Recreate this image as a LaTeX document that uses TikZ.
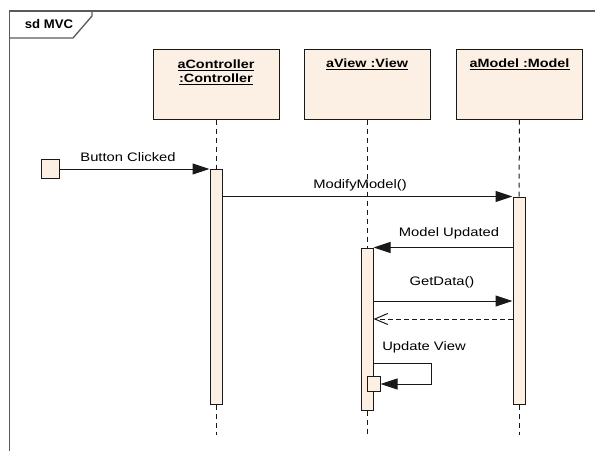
\documentclass[tikz,border=0pt]{standalone}
\usepackage{fontspec}
\setmainfont{Liberation Sans}
\usetikzlibrary{arrows.meta}
\definecolor{beige}{RGB}{251,240,227}
\definecolor{framec}{RGB}{90,90,90}
\definecolor{linec}{RGB}{25,25,25}
\newcommand\sxt[1]{\scalebox{1.2}[1]{#1}}
\tikzset{
  lbl/.style={font=\fontsize{12.3}{14}\selectfont, inner sep=0pt},
  ttl/.style={font=\bfseries\fontsize{12}{15}\selectfont, inner sep=0pt, align=center},
  objbox/.style={draw=linec, fill=beige, line width=1pt, minimum width=126pt, minimum height=70pt, inner sep=0pt},
  actbar/.style={draw=linec, fill=beige, line width=1pt, minimum width=12pt, inner sep=0pt},
  lifeline/.style={draw=linec, line width=1pt, dash pattern=on 5pt off 4pt},
  msg/.style={draw=linec, line width=1pt, -{Triangle[length=17pt,width=11pt]}},
  ret/.style={draw=linec, line width=1pt, dash pattern=on 5pt off 3pt, -{Straight Barb[length=13pt,width=11pt,line width=1pt]}},
}
\begin{document}
\begin{tikzpicture}[x=1pt,y=-1pt]
\useasboundingbox (0,0) rectangle (595,451);
% frame
\draw[framec, line width=1.3pt] (9.5,451) -- (9.5,11) -- (595,11);
\draw[framec, line width=1.3pt] (92,11) -- (92,16) -- (73,38) -- (9.5,38);
\node[ttl, font=\bfseries\fontsize{12.5}{14}\selectfont] (sd) at (49,24) {\scalebox{1.05}[1]{sd MVC}};
% object boxes
\node[objbox] (cbox) at (216,84) {};
\node[objbox] (vbox) at (367,84) {};
\node[objbox] (mbox) at (519.5,84) {};
\node[ttl] (ctitle) at (216,72) {\underline{\sxt{aController}}\\[-1pt]\underline{\sxt{:Controller}}};
\node[ttl] (vtitle) at (367,64) {\underline{\sxt{aView :View}}};
\node[ttl] (mtitle) at (519.5,64) {\underline{\sxt{aModel :Model}}};
% activation bars
\node[actbar, minimum height=235pt] (actC) at (216,286.5) {};
\node[actbar, minimum height=162pt] (actV) at (367,329) {};
\node[actbar, minimum height=207pt] (actM) at (519,300.5) {};
\node[actbar, minimum width=13pt, minimum height=15pt] (small) at (373.5,384) {};
\node[draw=linec, fill=beige, line width=1pt, minimum width=18pt, minimum height=19pt, inner sep=0pt] (start) at (50,169) {};
% lifelines
\coordinate (cend) at (216,435);
\coordinate (vend) at (367,435);
\coordinate (mend) at (519,435);
\draw[lifeline] (cbox.south) -- (actC.north);
\draw[lifeline] (actC.south) -- (cend);
\draw[lifeline] (vbox.south) -- (actV.north);
\draw[lifeline] (actV.south) -- (vend);
\draw[lifeline] (mbox.south) -- (actM.north);
\draw[lifeline] (actM.south) -- (mend);
% messages
\draw[msg] (start.east) -- (start.east -| actC.west);
\node[lbl] (l1) at (128,157) {\sxt{Button Clicked}};
\draw[msg] (actC.east |- actM.north) -- (actM.north west);
\node[lbl] (l2) at (360,185) {\sxt{ModifyModel()}};
\draw[msg] (actM.west |- actV.north) -- (actV.north east);
\node[lbl] (l3) at (449,233) {\sxt{Model Updated}};
\coordinate (gd) at (373,301);
\draw[msg] (gd) -- (gd -| actM.west);
\node[lbl] (l4) at (442,282) {\sxt{GetData()}};
\coordinate (rt) at (519,319);
\draw[ret] (rt -| actM.west) -- (rt -| actV.east);
\coordinate (selfa) at (373,363);
\coordinate (selfb) at (431,363);
\draw[msg] (selfa) -- (selfb) -- (selfb |- small.east) -- (small.east);
\node[lbl] (l5) at (424,347) {\sxt{Update View}};
\end{tikzpicture}
\end{document}
